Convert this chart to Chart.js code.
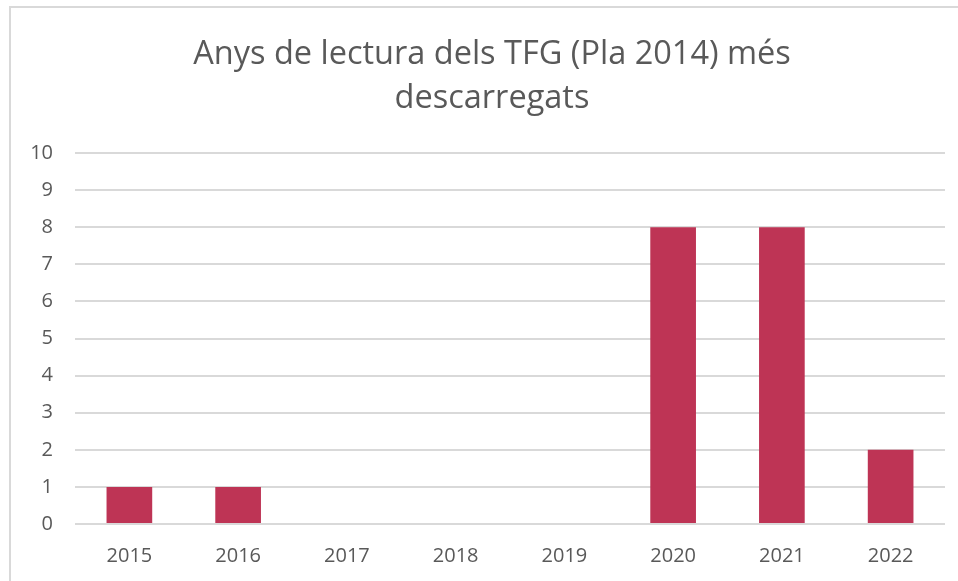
<!DOCTYPE html>
<html>
<head>
<meta charset="utf-8">
<script src="https://cdn.jsdelivr.net/npm/chart.js@4"></script>
<style>
html,body{margin:0;padding:0;background:#fff;}
#wrap{position:absolute;left:0;top:0;width:958px;height:581px;}
</style>
</head>
<body>
<div id="wrap"><canvas id="c" width="958" height="581"></canvas></div>
<script>
const titleLines = ["Anys de lectura dels TFG (Pla 2014) més", "descarregats"];
const categories = ["2015", "2016", "2017", "2018", "2019", "2020", "2021", "2022"];
const values = [1, 1, 0, 0, 0, 8, 8, 2];
const yMin = 0, yMax = 10, yStep = 1;

const frame = {
  id: 'frame',
  beforeDraw(chart) {
    const ctx = chart.ctx;
    ctx.save();
    ctx.fillStyle = '#fff';
    ctx.fillRect(0, 0, chart.width, chart.height);
    ctx.strokeStyle = '#d9d9d9';
    ctx.lineWidth = 2;
    ctx.beginPath();
    ctx.moveTo(10, chart.height);
    ctx.lineTo(10, 7);
    ctx.lineTo(chart.width, 7);
    ctx.stroke();
    ctx.restore();
  }
};

new Chart(document.getElementById('c'), {
  type: 'bar',
  data: {
    labels: categories,
    datasets: [{
      data: values,
      backgroundColor: '#BE3455',
      borderWidth: 0,
      categoryPercentage: 1,
      barPercentage: 0.42
    }]
  },
  options: {
    responsive: false,
    animation: false,
    devicePixelRatio: 1,
    layout: { padding: { left: 26, right: 0, top: 33, bottom: 1 } },
    plugins: {
      legend: { display: false },
      tooltip: { enabled: false },
      title: {
        display: true,
        text: titleLines,
        color: '#595959',
        font: { family: 'Open Sans', size: 32.5, weight: 'normal', lineHeight: 1.354 },
        padding: { top: 0, bottom: 32 }
      }
    },
    scales: {
      x: {
        grid: { display: false },
        border: { display: false },
        ticks: { color: '#595959', font: { family: 'Open Sans', size: 20 }, padding: 12 }
      },
      y: {
        min: yMin, max: yMax,
        afterFit(s) { s.width = 49; },
        grid: { color: '#d9d9d9', lineWidth: 2, drawTicks: false },
        border: { display: false },
        ticks: { stepSize: yStep, color: '#595959', font: { family: 'Open Sans', size: 20 }, padding: 22 }
      },
      yRight: {
        type: 'linear',
        position: 'right',
        display: true,
        min: yMin, max: yMax,
        afterFit(s) { s.width = 13; },
        grid: { display: false, drawOnChartArea: false },
        border: { display: false },
        ticks: { display: false }
      }
    }
  },
  plugins: [frame]
});
</script>
</body>
</html>
